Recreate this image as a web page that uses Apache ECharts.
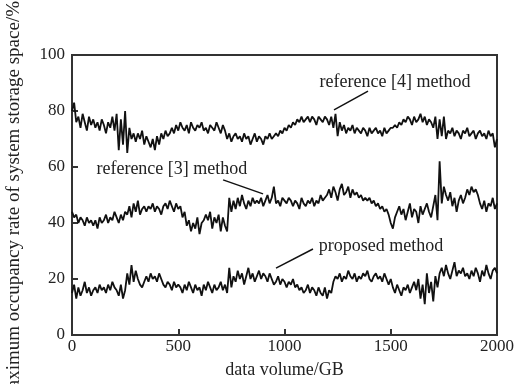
<!DOCTYPE html>
<html>
<head>
<meta charset="utf-8">
<script src="https://cdn.jsdelivr.net/npm/echarts@6/dist/echarts.min.js"></script>
<style>
html, body { margin: 0; padding: 0; background: #fff; }
#chart { width: 524px; height: 384px; }
</style>
</head>
<body>
<div id="chart"></div>
<script>
// sample spacing along x (GB)
const step = 10
const xTicks = [0, 500, 1000, 1500, 2000]
const yTicks = [0, 20, 40, 60, 80, 100]

// reference [4] method
const ref4 = [
	80, 83, 76, 78, 74, 79, 76, 73, 78, 75, 77,
	74, 76, 73, 77, 75, 72, 76, 74, 78, 73,
	79, 66, 77, 68, 80, 65, 74, 70, 72,
	69, 72, 70, 73, 68, 71, 69, 67, 70, 66, 71, 68, 72, 70, 73, 71, 72,
	74, 72, 75, 73, 76, 74, 73, 75, 72, 76, 74, 73, 75, 74, 76, 73, 74, 72, 75, 74, 73, 76, 74, 72, 75, 73,
	70, 72, 69, 71, 72, 70,
	71, 69, 72, 70, 71, 68, 70, 72, 69, 71, 70, 68, 71, 70, 72, 70, 71,
	72, 71, 73, 72, 74, 73, 75, 74, 76, 75, 77, 76, 78, 76, 77, 78,
	76, 78, 77, 75, 78, 77, 76, 78, 77, 75, 78, 74, 79,
	71, 76,
	73, 75, 72, 74, 73, 75, 72, 74, 73, 72, 74, 73, 71, 74, 72, 73, 74, 72, 73, 71, 74, 72, 73, 74,
	74, 75, 74, 76, 75, 77,
	76, 78, 77, 75, 78, 76, 77, 79, 76, 78, 75, 77, 76, 74,
	78, 70, 77, 71, 78, 70,
	73, 72, 74, 71, 73, 72, 70, 73, 72, 74, 71, 72, 73, 70, 72, 73, 71, 72, 70, 73, 71, 72,
	67, 70
]

// reference [3] method
const ref3 = [
	44, 42, 43, 40, 42, 41, 39, 42, 40, 41, 39,
	41, 38, 42, 40,
	41, 43, 40, 42, 41, 44, 42, 40, 43, 41, 44,
	43, 46, 42, 47, 44, 48, 43, 45, 46,
	44, 46, 45, 47, 44, 46, 45, 43, 46, 47, 45, 48, 46, 44, 47, 45, 46,
	42, 44, 39, 41, 37, 40, 38, 42, 36, 40, 41,
	43, 41, 44, 38, 42, 40, 43, 37, 42, 39,
	37, 49, 44,
	48, 45, 49, 46, 50, 47, 45, 48, 46, 49, 47, 48,
	47, 49, 46, 48, 50, 47, 49, 53, 47, 48, 46, 49, 48, 47, 49, 48,
	46, 48, 47, 45, 49, 47, 46, 48, 47, 49, 46, 48, 47, 50, 48, 49,
	50, 52, 49, 53, 51, 48, 52, 54, 50, 51, 53, 49, 52, 50, 51, 49, 50, 48, 49,
	48, 49, 47, 48, 46, 47, 45, 46, 44, 45, 43,
	40, 38, 42,
	44, 46, 43, 45, 41, 44, 47, 42, 45, 44, 40, 46, 43, 45, 47, 44, 42, 46,
	50, 41, 62, 47, 53,
	50, 48, 51, 46, 49, 44, 48, 50, 47, 49,
	52, 50, 53, 51, 52, 50,
	47, 45, 48, 44, 47, 46, 49, 45, 47
]

// proposed method
const proposed = [
	15, 18, 13, 17, 14, 16, 19, 15, 17, 14, 16,
	17, 15, 18, 16, 17, 15, 18, 16, 19, 17, 16,
	14, 18, 13, 16,
	22, 18, 25, 19, 23, 20,
	18, 17, 19,
	21, 19, 22, 20, 21, 19, 22, 20,
	18, 17, 19, 18, 16, 19, 17, 18,
	17, 15, 18, 16, 19, 17, 15, 18, 16, 17, 14, 18, 16, 19, 17, 15, 18, 16, 17, 19, 16, 18,
	15, 24, 17,
	21, 19, 23, 20, 22, 18, 21, 24, 20, 22, 19, 21, 23, 20, 22, 21, 19, 22,
	20, 18, 19, 21, 18, 20, 19, 17, 19, 18, 20, 17, 18,
	16, 17, 15, 16, 18, 15, 17, 16, 14, 17, 15,
	14, 17, 13, 16, 15,
	19, 21, 20, 22, 19, 21, 20, 23, 21, 20, 22, 19, 21, 20, 22, 21, 23, 20, 19, 21, 22, 20, 21, 19, 22, 20, 18, 20,
	17, 15, 18, 16, 14, 17, 16, 18, 15, 17, 19, 16,
	20, 13, 18, 11, 22, 15, 19, 12, 21, 17,
	22, 24, 21, 25, 22, 20, 23, 26, 21, 23, 22, 24, 21,
	22, 20, 23, 21, 24, 22, 19, 23, 21, 25, 22, 20, 23, 24, 22
]

// annotation texts and leader lines, in data coords
const notes = [
	{ text: 'reference [4] method', at: [1520, 90.3], from: [1393, 87.1], to: [1233, 80.4] },
	{ text: 'reference [3] method', at: [470, 59.2], from: [711, 55.4], to: [899, 50.4] },
	{ text: 'proposed method', at: [1454, 31.6], from: [1134, 30.7], to: [960, 23.9] }
]

const yName = 'maximum occupancy rate of system storage space/%'
const font = '"Liberation Serif", "Times New Roman", serif'
const ink = '#222'

const toPairs = (arr) => arr.map((v, i) => [i * step, v])

const makeSeries = (name, arr) => ({
	name: name,
	type: 'line',
	data: toPairs(arr),
	showSymbol: false,
	symbol: 'none',
	animation: false,
	lineStyle: { color: '#111', width: 1.8 }
})

const chart = echarts.init(document.getElementById('chart'))
const option = {
	animation: false,
	grid: {
		left: 72,
		right: 27,
		top: 55,
		bottom: 49,
		outerBoundsMode: 'none',
		containLabel: false,
		show: true,
		borderColor: '#333',
		borderWidth: 2
	},
	xAxis: {
		type: 'value',
		min: xTicks[0],
		max: xTicks[xTicks.length - 1],
		interval: 500,
		name: 'data volume/GB',
		nameLocation: 'middle',
		nameGap: 26,
		nameTextStyle: { fontFamily: font, fontSize: 18, color: ink },
		axisLine: { lineStyle: { color: '#333', width: 2 } },
		axisTick: { inside: true, length: 6, lineStyle: { color: '#333', width: 2 } },
		axisLabel: { fontFamily: font, fontSize: 17, color: ink, margin: 3, formatter: (v) => String(v) },
		splitLine: { show: false }
	},
	yAxis: {
		type: 'value',
		min: yTicks[0],
		max: yTicks[yTicks.length - 1],
		interval: 20,
		axisLine: { lineStyle: { color: '#333', width: 2 } },
		axisTick: { inside: true, length: 6, lineStyle: { color: '#333', width: 2 } },
		axisLabel: { fontFamily: font, fontSize: 17, color: ink, margin: 7 },
		splitLine: { show: false }
	},
	series: [
		makeSeries('reference [4] method', ref4),
		makeSeries('reference [3] method', ref3),
		makeSeries('proposed method', proposed)
	]
}
chart.setOption(option)

// y name is longer than the canvas, so it is placed by hand like the source figure
const elements = [{
	type: 'text',
	x: 14,
	y: 202,
	rotation: Math.PI / 2,
	style: {
		text: yName,
		fill: ink,
		font: '19px ' + font,
		align: 'center',
		verticalAlign: 'middle'
	}
}]
// place the notes once the scales exist
notes.forEach((n) => {
	const p = chart.convertToPixel({ gridIndex: 0 }, n.at)
	const a = chart.convertToPixel({ gridIndex: 0 }, n.from)
	const b = chart.convertToPixel({ gridIndex: 0 }, n.to)
	elements.push({
		type: 'text',
		x: p[0],
		y: p[1],
		style: {
			text: n.text,
			fill: ink,
			font: '18px ' + font,
			align: 'center',
			verticalAlign: 'middle'
		}
	})
	elements.push({
		type: 'line',
		shape: { x1: a[0], y1: a[1], x2: b[0], y2: b[1] },
		style: { stroke: '#111', lineWidth: 1.5 }
	})
})
chart.setOption({ graphic: elements })
</script>
</body>
</html>
